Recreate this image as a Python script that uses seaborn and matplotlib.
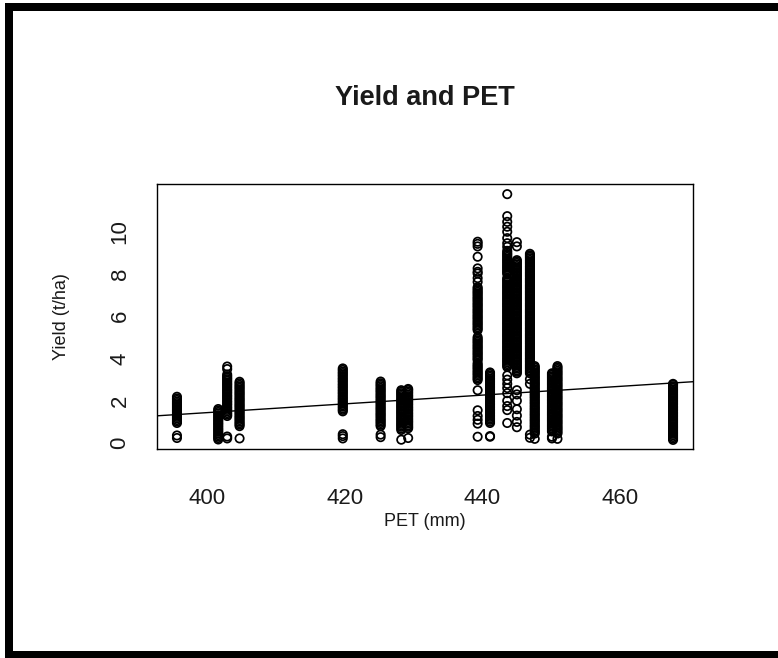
import matplotlib
matplotlib.use("Agg")
import matplotlib.pyplot as plt
from matplotlib.patches import Rectangle
import seaborn as sns
import pandas as pd

# PET (mm) of each site and the yields (t/ha) observed there
pet_sites = [395.6, 401.6, 402.9, 404.7, 419.7, 425.2, 428.2, 429.2,
             439.3, 441.1, 443.6, 445.0, 446.9, 447.6, 450.1, 450.9, 467.7]

yield_395 = [0.24, 0.36, 0.95, 1.02, 1.09, 1.17, 1.24, 1.31, 1.38, 1.46, 1.53, 1.60,
             1.67, 1.75, 1.82, 1.89, 1.96, 2.04, 2.11, 2.19]
yield_401 = [0.17, 0.24, 0.31, 0.38, 0.45, 0.53, 0.60, 0.67, 0.74, 0.82, 0.89, 0.96,
             1.03, 1.10, 1.18, 1.25, 1.32, 1.40, 1.47, 1.54, 1.61]
yield_402 = [0.22, 0.31, 1.28, 1.35, 1.42, 1.50, 1.57, 1.64, 1.71, 1.79, 1.86, 1.93,
             2.00, 2.08, 2.15, 2.22, 2.29, 2.37, 2.44, 2.51, 2.58, 2.66, 2.73, 2.80,
             2.87, 2.95, 3.02, 3.09, 3.16, 3.24, 3.50, 3.62]
yield_404 = [0.22, 0.80, 0.87, 0.94, 1.01, 1.09, 1.16, 1.23, 1.30, 1.38, 1.45, 1.52,
             1.59, 1.67, 1.74, 1.81, 1.88, 1.96, 2.03, 2.10, 2.17, 2.25, 2.32, 2.39,
             2.46, 2.54, 2.61, 2.68, 2.75, 2.83, 2.90]
yield_419 = [0.22, 0.33, 0.42, 1.50, 1.57, 1.64, 1.72, 1.79, 1.86, 1.93, 2.01, 2.08,
             2.15, 2.22, 2.30, 2.37, 2.44, 2.51, 2.59, 2.66, 2.73, 2.80, 2.88, 2.95,
             3.02, 3.09, 3.17, 3.24, 3.31, 3.38, 3.46, 3.53]
yield_425 = [0.28, 0.40, 0.80, 0.87, 0.95, 1.02, 1.09, 1.16, 1.24, 1.31, 1.38, 1.45,
             1.53, 1.60, 1.67, 1.74, 1.82, 1.89, 1.96, 2.03, 2.11, 2.18, 2.25, 2.32,
             2.40, 2.47, 2.54, 2.61, 2.69, 2.76, 2.83, 2.91]
yield_428 = [0.16, 0.62, 0.69, 0.77, 0.84, 0.91, 0.98, 1.06, 1.13, 1.20, 1.27, 1.35,
             1.42, 1.49, 1.56, 1.64, 1.71, 1.78, 1.85, 1.93, 2.00, 2.07, 2.14, 2.22,
             2.29, 2.36, 2.43, 2.50]
yield_429 = [0.24, 0.70, 0.77, 0.84, 0.92, 0.99, 1.06, 1.13, 1.21, 1.28, 1.35, 1.42,
             1.50, 1.57, 1.64, 1.71, 1.79, 1.86, 1.93, 2.00, 2.08, 2.15, 2.22, 2.29,
             2.37, 2.44, 2.51, 2.56]
yield_439 = [0.30, 0.92, 1.10, 1.28, 1.55, 2.50, 2.98, 3.05, 3.12, 3.20, 3.27, 3.34,
             3.41, 3.49, 3.56, 3.63, 3.70, 3.78, 3.92, 3.99, 4.06, 4.14, 4.21, 4.28,
             4.35, 4.43, 4.50, 4.57, 4.64, 4.72, 4.79, 4.86, 4.93, 5.01, 5.34, 5.41,
             5.48, 5.56, 5.63, 5.70, 5.77, 5.85, 5.92, 5.99, 6.06, 6.14, 6.21, 6.28,
             6.35, 6.43, 6.50, 6.57, 6.64, 6.72, 6.79, 6.86, 6.93, 7.01, 7.08, 7.15,
             7.22, 7.30, 7.37, 7.62, 7.80, 8.02, 8.10, 8.26, 8.81, 9.30, 9.42, 9.52]
yield_441 = [0.30, 0.33, 0.95, 1.02, 1.10, 1.17, 1.24, 1.31, 1.39, 1.46, 1.53, 1.60,
             1.68, 1.75, 1.82, 1.89, 1.97, 2.04, 2.11, 2.18, 2.26, 2.33, 2.40, 2.47,
             2.55, 2.62, 2.69, 2.76, 2.84, 2.91, 2.98, 3.05, 3.13, 3.20, 3.27, 3.34]
yield_443 = [0.95, 1.56, 1.75, 2.00, 2.36, 2.60, 2.80, 3.00, 3.20, 3.60, 3.67, 3.74,
             3.82, 3.89, 3.96, 4.03, 4.11, 4.18, 4.25, 4.32, 4.40, 4.47, 4.54, 4.61,
             4.69, 4.76, 4.83, 4.90, 4.98, 5.05, 5.12, 5.19, 5.27, 5.34, 5.41, 5.48,
             5.56, 5.63, 5.70, 5.77, 5.85, 5.92, 5.99, 6.06, 6.14, 6.21, 6.28, 6.35,
             6.43, 6.50, 6.57, 6.64, 6.72, 6.79, 6.86, 6.93, 7.01, 7.08, 7.15, 7.22,
             7.30, 7.37, 7.44, 7.51, 7.59, 7.66, 7.73, 7.80, 8.00, 8.07, 8.14, 8.22,
             8.29, 8.36, 8.43, 8.51, 8.58, 8.65, 8.72, 8.80, 8.87, 8.94, 9.01, 9.09,
             9.28, 9.45, 9.69, 9.99, 10.23, 10.46, 10.73, 11.77]
yield_445 = [0.75, 1.00, 1.30, 1.60, 2.00, 2.30, 2.50, 3.30, 3.37, 3.44, 3.52, 3.59,
             3.66, 3.73, 3.81, 3.88, 3.95, 4.02, 4.10, 4.17, 4.24, 4.31, 4.39, 4.46,
             4.53, 4.60, 4.68, 4.75, 4.82, 4.89, 4.97, 5.04, 5.11, 5.18, 5.26, 5.33,
             5.40, 5.47, 5.55, 5.62, 5.69, 5.76, 5.84, 5.91, 5.98, 6.05, 6.13, 6.20,
             6.27, 6.34, 6.42, 6.49, 6.56, 6.63, 6.71, 6.78, 6.85, 6.92, 7.00, 7.07,
             7.14, 7.21, 7.29, 7.36, 7.43, 7.50, 7.58, 7.65, 7.72, 7.79, 7.87, 7.94,
             8.01, 8.08, 8.16, 8.23, 8.30, 8.37, 8.45, 8.52, 8.59, 8.65, 9.30, 9.50]
yield_446 = [0.25, 0.40, 2.80, 3.02, 3.30, 3.37, 3.44, 3.52, 3.59, 3.66, 3.73, 3.81,
             3.88, 3.95, 4.02, 4.10, 4.17, 4.24, 4.31, 4.39, 4.46, 4.53, 4.60, 4.68,
             4.75, 4.82, 4.89, 4.97, 5.04, 5.11, 5.18, 5.26, 5.33, 5.40, 5.47, 5.55,
             5.62, 5.69, 5.76, 5.84, 5.91, 5.98, 6.05, 6.13, 6.20, 6.27, 6.34, 6.42,
             6.49, 6.56, 6.63, 6.71, 6.78, 6.85, 6.92, 7.00, 7.07, 7.14, 7.21, 7.29,
             7.36, 7.43, 7.50, 7.58, 7.65, 7.72, 7.79, 7.87, 7.94, 8.01, 8.08, 8.16,
             8.23, 8.30, 8.37, 8.45, 8.52, 8.59, 8.66, 8.74, 8.81, 8.88, 8.95]
yield_447 = [0.20, 0.45, 0.52, 0.59, 0.67, 0.74, 0.81, 0.88, 0.96, 1.03, 1.10, 1.17,
             1.25, 1.32, 1.39, 1.46, 1.54, 1.61, 1.68, 1.75, 1.83, 1.90, 1.97, 2.04,
             2.12, 2.19, 2.26, 2.33, 2.41, 2.48, 2.55, 2.62, 2.70, 2.77, 2.84, 2.91,
             2.99, 3.06, 3.13, 3.20, 3.28, 3.35, 3.42, 3.49, 3.57, 3.64]
yield_450 = [0.22, 0.30, 0.55, 0.62, 0.70, 0.77, 0.84, 0.91, 0.99, 1.06, 1.13, 1.20,
             1.28, 1.35, 1.42, 1.49, 1.57, 1.64, 1.71, 1.78, 1.86, 1.93, 2.00, 2.07,
             2.15, 2.22, 2.29, 2.36, 2.44, 2.51, 2.58, 2.65, 2.73, 2.80, 2.87, 2.94,
             3.02, 3.09, 3.16, 3.23, 3.30]
yield_451 = [0.20, 0.45, 0.52, 0.60, 0.67, 0.74, 0.81, 0.89, 0.96, 1.03, 1.10, 1.18,
             1.25, 1.32, 1.39, 1.47, 1.54, 1.61, 1.68, 1.76, 1.83, 1.90, 1.97, 2.05,
             2.12, 2.19, 2.26, 2.34, 2.41, 2.48, 2.55, 2.63, 2.70, 2.77, 2.84, 2.92,
             2.99, 3.06, 3.13, 3.21, 3.28, 3.35, 3.42, 3.50, 3.57, 3.64]
yield_467 = [0.15, 0.22, 0.29, 0.37, 0.44, 0.51, 0.58, 0.66, 0.73, 0.80, 0.87, 0.95,
             1.02, 1.09, 1.16, 1.24, 1.31, 1.38, 1.45, 1.53, 1.60, 1.67, 1.74, 1.82,
             1.89, 1.96, 2.03, 2.11, 2.18, 2.25, 2.32, 2.40, 2.47, 2.54, 2.61, 2.69,
             2.76, 2.80]

site_yields = [yield_395, yield_401, yield_402, yield_404, yield_419, yield_425,
               yield_428, yield_429, yield_439, yield_441, yield_443, yield_445,
               yield_446, yield_447, yield_450, yield_451, yield_467]

# least-squares line of yield on PET
fit_intercept = -6.84
fit_slope = 0.0207

x_ticks = [400, 420, 440, 460]
y_ticks = [0, 2, 4, 6, 8, 10, 12]
y_tick_labels = ["0", "2", "4", "6", "8", "10", ""]

rows = []
for pet, ys in zip(pet_sites, site_yields):
    for y in ys:
        rows.append((pet, y))
df = pd.DataFrame(rows, columns=["PET", "Yield"])

sns.set_style("white")
plt.rcParams["font.family"] = ["Liberation Sans", "DejaVu Sans"]
ink = "#1a1a1a"

W, H = 778, 658
fig = plt.figure(figsize=(W / 100, H / 100), dpi=100)
fig.patch.set_facecolor("white")

left, right, top, bottom = 157, 693, 184, 449
ax = fig.add_axes([left / W, (H - bottom) / H, (right - left) / W, (bottom - top) / H])

sns.scatterplot(data=df, x="PET", y="Yield", ax=ax, marker="o", s=36,
                facecolor="none", edgecolor="black", linewidth=1.25, legend=False)

xlim = (392.7, 470.6)
ax.set_xlim(*xlim)
ax.set_ylim(-0.28, 12.25)
ax.plot(list(xlim), [fit_intercept + fit_slope * x for x in xlim],
        color="black", lw=1.0)

ax.set_xticks(x_ticks)
ax.set_xticklabels([str(t) for t in x_ticks])
ax.set_yticks(y_ticks)
ax.set_yticklabels(y_tick_labels, rotation=90, va="center")
ax.tick_params(axis="both", direction="out", length=9, width=1.0,
               colors="black", labelcolor=ink, labelsize=16)
ax.tick_params(axis="x", pad=19)
ax.tick_params(axis="y", pad=10)
for sp in ax.spines.values():
    sp.set_visible(True)
    sp.set_color("black")
    sp.set_linewidth(1.0)

ax.set_xlabel("PET (mm)", fontsize=13, color=ink)
ax.set_ylabel("Yield (t/ha)", fontsize=13, color=ink)
ax.xaxis.set_label_coords((425 - left) / (right - left), (bottom - 522) / (bottom - top))
ax.xaxis.label.set_va("center")
ax.yaxis.set_label_coords((62 - left) / (right - left), 0.5)
ax.yaxis.label.set_va("center")

fig.text(425 / W, (H - 98) / H, "Yield and PET", ha="center", va="center",
         fontsize=19.5, fontweight="bold", color=ink)

# heavy frame along the left, top and bottom edges
for (x0, y0, x1, y1) in [(5, 3, 13, 658), (5, 3, 778, 11), (5, 651, 778, 658)]:
    fig.add_artist(Rectangle((x0 / W, (H - y1) / H), (x1 - x0) / W, (y1 - y0) / H,
                             transform=fig.transFigure, facecolor="black",
                             edgecolor="none"))

fig.savefig("out.png", dpi=100)
